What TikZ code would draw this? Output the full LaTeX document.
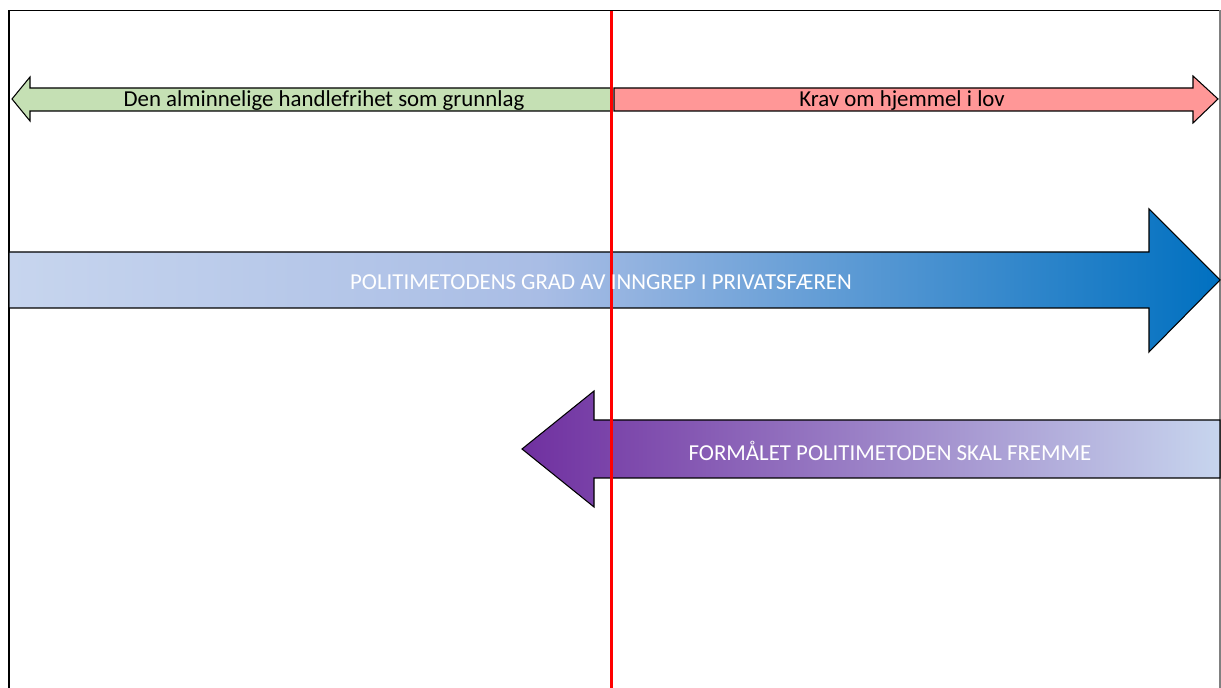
\documentclass[tikz,border=0pt]{standalone}
\usepackage{fontspec}
\setmainfont{Carlito}
\definecolor{frihetgreen}{HTML}{C5E0B4}
\definecolor{lovred}{HTML}{FF9797}
\definecolor{lightblue}{HTML}{C7D5EE}
\definecolor{paleblue}{HTML}{A9BDE5}
\definecolor{darkblue}{HTML}{0070C0}
\definecolor{midpurple}{HTML}{7030A0}
\pgfdeclarehorizontalshading{inngrepshade}{100bp}{
  color(0bp)=(lightblue); color(25bp)=(lightblue); color(47bp)=(paleblue);
  color(75bp)=(darkblue); color(100bp)=(darkblue)}
\tikzset{
  arrowshape/.style = {draw=black, line width=0.6pt, line join=miter},
  arrowtext/.style  = {font=\fontsize{13}{15}\selectfont, inner sep=0pt},
}
\begin{document}
\begin{tikzpicture}[x=0.02cm, y=-0.02cm]
    \useasboundingbox (0,0) rectangle (1221,688);

    % frame
    \draw[line width=1.1pt] (9,688) -- (9,10.5) -- (1220,10.5);
    \draw[line width=0.8pt, gray] (1220,10.5) -- (1220,688);

    % top arrows
    \path[arrowshape, fill=frihetgreen]
      (12,99) -- (30,77) -- (30,88) -- (612,88) -- (612,111) -- (30,111) -- (30,121) -- cycle;
    \path[arrowshape, fill=lovred]
      (614,88) -- (1193,88) -- (1193,76) -- (1218,99) -- (1193,123) -- (1193,111) -- (614,111) -- cycle;

    % big arrows
    \path[arrowshape, shading=inngrepshade]
      (9,252) -- (1149,252) -- (1149,209) -- (1220,280) -- (1149,352) -- (1149,308) -- (9,308) -- cycle;
    \path[arrowshape, left color=midpurple, right color=lightblue]
      (1220,420) -- (594,420) -- (594,391) -- (522,449) -- (594,507) -- (594,478) -- (1220,478) -- cycle;

    % dividing line
    \coordinate (skilletop) at (611.5,11);
    \coordinate (skillebunn) at (611.5,688);
    \draw[red, line width=1.3pt] (skilletop) -- (skillebunn);

    % texts
    \node[arrowtext] (handlefrihet) at (324,101) {Den alminnelige handlefrihet som grunnlag};
    \node[arrowtext] (hjemmel) at (902,101) {Krav om hjemmel i lov};
    \node[arrowtext, text=white] (inngrep) at (601,282) {POLITIMETODENS GRAD AV INNGREP I PRIVATSFÆREN};
    \node[arrowtext, text=white] (formaal) at (890,451) {FORMÅLET POLITIMETODEN SKAL FREMME};
\end{tikzpicture}
\end{document}
